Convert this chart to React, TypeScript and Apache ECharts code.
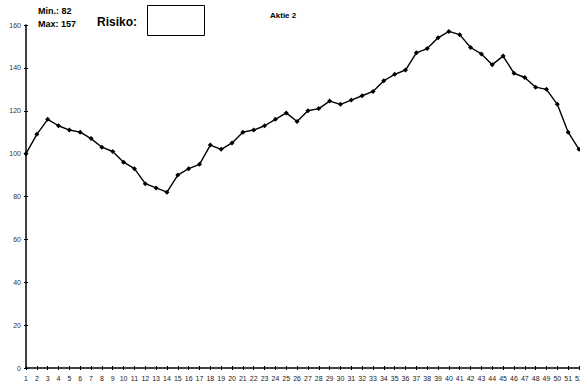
import React, { useEffect, useRef } from "react";
import * as echarts from "echarts";

// Weekly index of "Aktie 2" (start = 100)
const weeks: string[] = Array.from({ length: 52 }, (_, i) => String(i + 1));
const prices: number[] = [
  100, 109, 116, 113, 111, 110, 107, 103, 101, 96,
  93, 86, 84, 82, 90, 93, 95, 104, 102, 105,
  110, 111, 113, 116, 119, 115, 120, 121, 124.5, 123,
  125, 127, 129, 134, 137, 139, 147, 149, 154, 157,
  155.5, 149.5, 146.5, 141.5, 145.5, 137.5, 135.5, 131, 130, 123,
  110, 102,
];
const yTicks = { min: 0, max: 160, interval: 20 };
const minLabel = "Min.: 82";
const maxLabel = "Max: 157";
const riskLabel = "Risiko:";
const titleText = "Aktie 2";

const FONT = "'Liberation Sans', Arial, sans-serif";

export default function App() {
  const ref = useRef<HTMLDivElement>(null);

  useEffect(() => {
    if (!ref.current) return;
    const chart = echarts.init(ref.current, undefined, { renderer: "svg" });

    const axisLine = { show: true, lineStyle: { color: "#000", width: 1.5 } };
    const tickStyle = { color: "#000", width: 1 };

    chart.setOption({
      animation: false,
      backgroundColor: "#fff",
      grid: {
        left: 26,
        right: 1,
        top: 25,
        bottom: 20,
        containLabel: false,
        outerBoundsMode: "none",
      },
      xAxis: [
        {
          type: "category",
          data: weeks,
          boundaryGap: false,
          axisLine,
          axisTick: { show: true, inside: false, length: 2, alignWithLabel: true, interval: 0, lineStyle: tickStyle },
          axisLabel: { interval: 0, margin: 7, fontSize: 7, color: "#222", fontFamily: FONT, hideOverlap: false },
          splitLine: { show: false },
        },
        {
          type: "category",
          data: weeks,
          boundaryGap: false,
          position: "bottom",
          axisLine: { show: false },
          axisTick: { show: true, inside: true, length: 2, interval: 0, lineStyle: tickStyle },
          axisLabel: { show: false },
          splitLine: { show: false },
        },
      ],
      yAxis: [
        {
          type: "value",
          ...yTicks,
          axisLine,
          axisTick: { show: true, inside: false, length: 2, lineStyle: tickStyle },
          axisLabel: { margin: 5, fontSize: 7, color: "#333", fontFamily: FONT },
          splitLine: { show: false },
        },
        {
          type: "value",
          ...yTicks,
          position: "left",
          axisLine: { show: false },
          axisTick: { show: true, inside: true, length: 2, lineStyle: tickStyle },
          axisLabel: { show: false },
          splitLine: { show: false },
        },
      ],
      series: [
        {
          type: "line",
          data: prices,
          xAxisIndex: 0,
          yAxisIndex: 0,
          symbol: "diamond",
          symbolSize: 5,
          showSymbol: true,
          lineStyle: { color: "#000", width: 1.4 },
          itemStyle: { color: "#000" },
        },
      ],
      graphic: [
        {
          type: "text",
          left: 38,
          top: 6,
          style: { text: minLabel, font: `bold 9px ${FONT}`, fill: "#000" },
        },
        {
          type: "text",
          left: 38,
          top: 19.5,
          style: { text: maxLabel, font: `bold 9px ${FONT}`, fill: "#000" },
        },
        {
          type: "text",
          left: 97,
          top: 15.5,
          style: { text: riskLabel, font: `bold 12px ${FONT}`, fill: "#000" },
        },
        {
          type: "rect",
          shape: { x: 147.5, y: 5.5, width: 57, height: 30 },
          style: { fill: "#fff", stroke: "#000", lineWidth: 1 },
        },
        {
          type: "text",
          left: 270,
          top: 11,
          style: { text: titleText, font: `bold 8px ${FONT}`, fill: "#000" },
        },
      ],
    });

    return () => chart.dispose();
  }, []);

  return (
    <div
      ref={ref}
      style={{ position: "fixed", left: 0, top: 0, width: 580, height: 388, background: "#fff" }}
    />
  );
}
